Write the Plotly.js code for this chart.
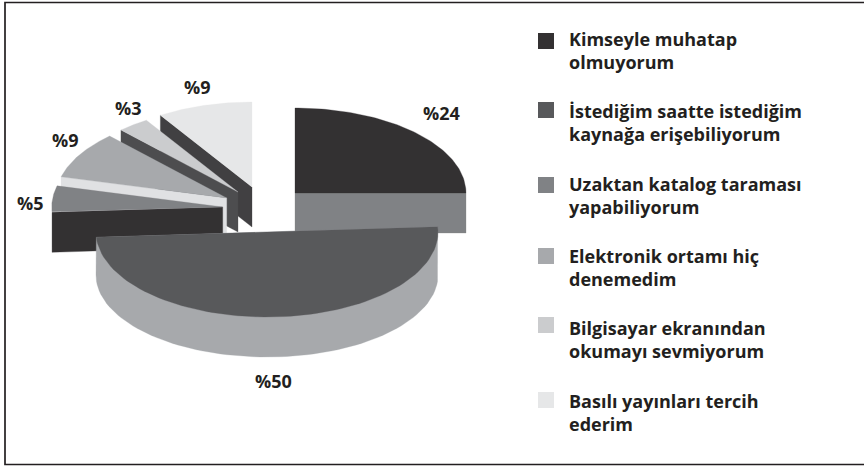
<!DOCTYPE html>
<html><head><meta charset="utf-8">
<script src="https://cdn.plot.ly/plotly-3.0.0.min.js"></script>
<style>html,body{margin:0;padding:0;background:#fff}</style></head>
<body><div id="chart" style="width:864px;height:466px"></div>
<script>
// Data
const categories = ["Kimseyle muhatap<br>olmuyorum","İstediğim saatte istediğim<br>kaynağa erişebiliyorum","Uzaktan katalog taraması<br>yapabiliyorum","Elektronik ortamı hiç<br>denemedim","Bilgisayar ekranından<br>okumayı sevmiyorum","Basılı yayınları tercih<br>ederim"];
const values = [24,50,5,9,3,9];
const valueLabels = ["%24","%50","%5","%9","%3","%9"];

// Styles
const faceColors = ["#333132","#58595b","#808285","#a7a9ac","#cbccce","#e6e7e8"];
const wallColors = ["#808285","#a7a9ac","#333132","#e0e1e3","#4d4d4f","#414042"];
const textColor = "#231f20";
const fontFamily = "'Open Sans', sans-serif";

// Exploded-pie layout (pixel-like axes)
const centerX = [295,267,222.7,226.7,238,252];
const centerY = [193,232,207,198,192,187];
const radiusX = 171, radiusY = 85, depth = 40;
const endTweakDeg = [3.6,0,0,0,0,0];
const labelX = [441,273,30,65,128,197];
const labelY = [113,381,203,140,108,87];
const legendSwatchY = [41,110,185,256,325,400];
const legendTextY = [50,122,195,267,339,412];
const drawOrder = [5,4,3,2,0,1];

const rad = d => d*Math.PI/180;
const total = values.reduce((a,b)=>a+b,0);
const starts = []; let c = 0;
values.forEach(v=>{starts.push(c/total*360); c+=v;});
const ends = values.map((v,i)=>starts[i]+v/total*360+endTweakDeg[i]);
const rim = (i,a,dy=0,ry=radiusY)=>[centerX[i]+radiusX*Math.sin(rad(a)), centerY[i]-ry*Math.cos(rad(a))+dy];
function poly(pts,color){return {type:'scatter',mode:'lines',x:pts.map(p=>p[0]),y:pts.map(p=>p[1]),fill:'toself',fillcolor:color,line:{width:0.3,color:color},hoverinfo:'skip',showlegend:false};}

const traces = [];
drawOrder.forEach(i=>{
  const a0 = starts[i], a1 = ends[i], n = 80;
  const arc = [];
  for(let k=0;k<=n;k++) arc.push(a0+(a1-a0)*k/n);
  if(i===1){
    const top = arc.map(a=>rim(i,a));
    const low = [];
    for(let k=0;k<=n;k++) low.push(rim(i,90+180*k/n,43,82));
    traces.push(poly([top[0],...low,top[n],top[0]],wallColors[i]));
  } else {
    const edgeA = (i===0)? a1 : a0;
    const p = rim(i,edgeA), q = rim(i,edgeA,depth);
    const ap=[centerX[i],centerY[i]], aq=[centerX[i],centerY[i]+depth];
    traces.push(poly([ap,p,q,aq,ap],wallColors[i]));
  }
  const face = [[centerX[i],centerY[i]],...arc.map(a=>rim(i,a)),[centerX[i],centerY[i]]];
  traces.push(poly(face,faceColors[i]));
});
traces.push({type:'scatter',mode:'markers',x:categories.map(()=>546),y:legendSwatchY,
  marker:{symbol:'square',size:16,color:faceColors,line:{width:0}},hoverinfo:'skip',showlegend:false});

const annotations = [];
categories.forEach((t,i)=>annotations.push({x:567,y:legendTextY[i],xref:'x',yref:'y',xanchor:'left',yanchor:'middle',align:'left',showarrow:false,text:t,font:{family:fontFamily,size:18,weight:700,color:textColor}}));
valueLabels.forEach((t,i)=>annotations.push({x:labelX[i],y:labelY[i],xref:'x',yref:'y',xanchor:'center',yanchor:'middle',showarrow:false,text:t,font:{family:fontFamily,size:18,weight:700,color:textColor}}));

Plotly.newPlot('chart',traces,{
  width:864,height:466,margin:{l:0,r:0,t:0,b:0},paper_bgcolor:'#fff',plot_bgcolor:'#fff',showlegend:false,
  xaxis:{range:[0,864],visible:false,fixedrange:true},
  yaxis:{range:[466,0],visible:false,fixedrange:true},
  annotations,
  shapes:[{type:'path',xref:'x',yref:'y',path:'M 864 2.5 L 5 2.5 L 5 464.5 L 864 464.5',line:{color:'#231f20',width:1.7},layer:'below'}]
},{displayModeBar:false,staticPlot:true});
</script></body></html>
